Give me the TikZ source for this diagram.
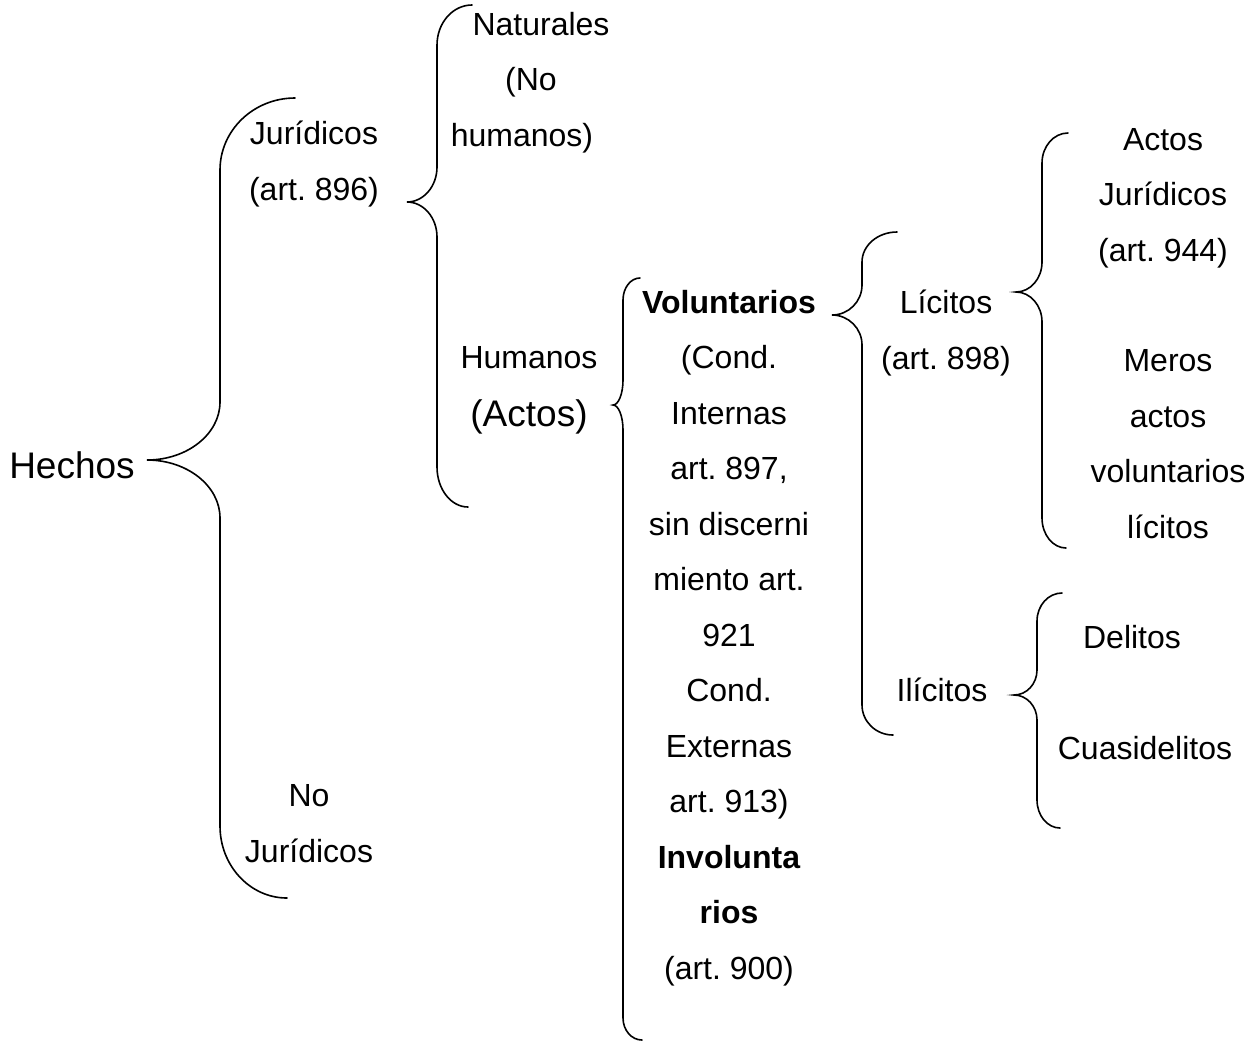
\documentclass[tikz,border=0pt]{standalone}
\usepackage{fontspec}
\setmainfont{Liberation Sans}
\frenchspacing
% #1,#2 top end; #3 vertical x; #4 corner height; #5,#6 tip; #7 tip height; #8,#9 bottom end
\newcommand\drawbrace[9]{%
  \draw[bracestyle] (#1,#2) .. controls (#3+0.448*#1-0.448*#3,#2) and (#3,#2+0.448*#4) .. (#3,#2+#4)
    -- (#3,#6-#7)
    .. controls (#3,#6-0.448*#7) and (#3-0.448*#3+0.448*#5,#6) .. (#5,#6)
    .. controls (#3-0.448*#3+0.448*#5,#6) and (#3,#6+0.448*#7) .. (#3,#6+#7)
    -- (#3,#9-#4)
    .. controls (#3,#9-0.448*#4) and (#3+0.448*#8-0.448*#3,#9) .. (#8,#9);}
\begin{document}
\begin{tikzpicture}[x=0.5pt,y=-0.5pt,
  bracestyle/.style={line width=0.8pt, line cap=round},
  lbl/.style={font=\fontsize{16pt}{27.75pt}\selectfont, align=center, anchor=base, inner sep=0pt},
  biglbl/.style={font=\fontsize{18.5pt}{22pt}\selectfont, anchor=base, inner sep=0pt}]
\useasboundingbox (0,0) rectangle (1256,1045);
% labels (anchored at the baseline of their last line)
\node[biglbl] (hechos) at (72,478) {Hechos};
\node[lbl] (jur) at (314,200) {Jurídicos\\(art. 896)};
\node[lbl] (nat) at (531,146) {\hspace*{10pt}Naturales\\(No\\humanos)\hspace*{9pt}};
\node[lbl] (hum) at (529,368) {Humanos};
\node[biglbl] (actos) at (529,426) {(Actos)};
\node[lbl] (vol) at (729,979) {\textbf{Voluntarios}\\(Cond.\\Internas\\art. 897,\\sin discerni\\miento art.\\921\\Cond.\\Externas\\art. 913)\\\textbf{Involunta}\\\textbf{rios}\\(art. 900)};
\node[lbl] (lic) at (946,369) {Lícitos\\(art. 898)};
\node[lbl] (ilic) at (942,701) {Ilícitos};
\node[lbl] (aj) at (1163,261) {Actos\\Jurídicos\\(art. 944)};
\node[lbl] (meros) at (1168,538) {Meros\\actos\\voluntarios\\lícitos};
\node[lbl] (del) at (1132,648) {Delitos};
\node[lbl] (cuasi) at (1145,759) {Cuasidelitos};
\node[lbl] (nojur) at (309,862) {No\\Jurídicos};
% braces
\drawbrace{295}{98}{220}{72}{147}{460}{58}{287}{898}
\drawbrace{472}{5}{437}{40}{407}{202}{35}{468}{507}
\drawbrace{640}{278}{623}{22}{613}{405}{25}{642}{1040}
\drawbrace{897}{232}{862}{30}{832}{315}{30}{893}{735}
\drawbrace{1068}{133}{1042}{30}{1016}{292}{30}{1066}{548}
\drawbrace{1062}{593}{1037}{28}{1014}{695}{25}{1060}{828}
\end{tikzpicture}
\end{document}
